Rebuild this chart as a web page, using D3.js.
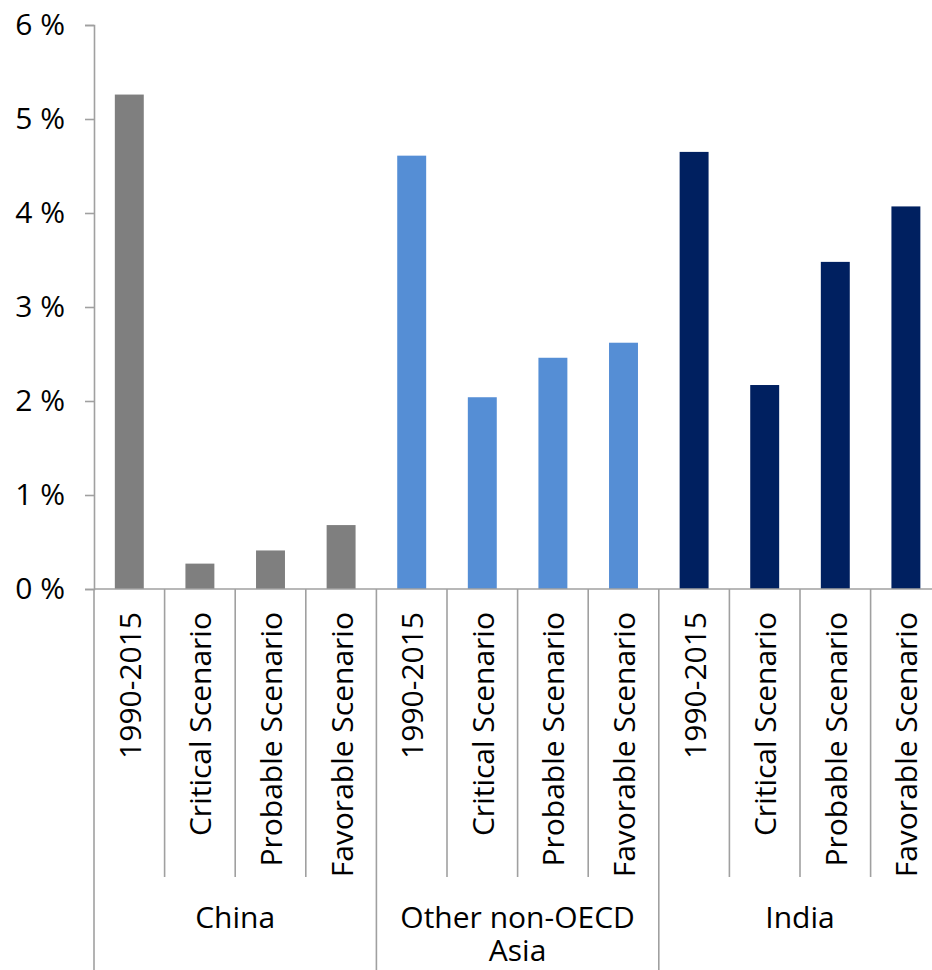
<!DOCTYPE html>
<html>
<head>
<meta charset="utf-8">
<script src="https://cdn.jsdelivr.net/npm/d3@7"></script>
<style>
  html, body { margin: 0; padding: 0; background: #fff; }
  svg { display: block; font-family: "Open Sans", "Noto Sans", sans-serif; }
</style>
</head>
<body>
<svg id="chart" width="932" height="970"></svg>
<script>
// Average annual growth rates by region and scenario
const groups = ["China", "Other non-OECD Asia", "India"];
const scenarios = ["1990-2015", "Critical Scenario", "Probable Scenario", "Favorable Scenario"];
const chinaValues = [5.26, 0.27, 0.41, 0.68];
const otherAsiaValues = [4.61, 2.04, 2.46, 2.62];
const indiaValues = [4.65, 2.17, 3.48, 4.07];
const yTicks = [0, 1, 2, 3, 4, 5, 6];
const groupColors = ["#7f7f7f", "#558ed5", "#002060"];

const seriesByGroup = [chinaValues, otherAsiaValues, indiaValues];
const rows = [];
groups.forEach((g, gi) => {
  scenarios.forEach((s, si) => {
    rows.push({ key: gi + "|" + si, group: g, gi, scenario: s, value: seriesByGroup[gi][si] });
  });
});

const svg = d3.select("#chart");
const axisColor = "#a0a0a0";
const plotLeft = 94, plotTop = 25, plotBottom = 589;
const slotW = 70.6;
const xEnd = plotLeft + slotW * rows.length;

const x = d3.scaleBand()
  .domain(rows.map(d => d.key))
  .range([plotLeft, xEnd])
  .paddingInner(0.59)
  .paddingOuter(0.295);

const y = d3.scaleLinear().domain([0, 6]).range([plotBottom, plotTop]);

// Bars
svg.append("g").selectAll("rect")
  .data(rows)
  .join("rect")
  .attr("x", d => x(d.key))
  .attr("width", x.bandwidth())
  .attr("y", d => y(d.value))
  .attr("height", d => y(0) - y(d.value))
  .attr("fill", d => groupColors[d.gi]);

// Y axis
const yAxis = svg.append("g")
  .attr("transform", `translate(${plotLeft},0)`)
  .call(d3.axisLeft(y).tickValues(yTicks).tickFormat(d => d + " %").tickSize(9).tickPadding(20));
yAxis.select(".domain").attr("stroke", axisColor).attr("stroke-width", 1.6);
yAxis.selectAll(".tick line").attr("stroke", axisColor).attr("stroke-width", 1.6);
yAxis.selectAll(".tick text")
  .attr("fill", "#000")
  .style("font-size", "30px")
  .style("font-family", "'Open Sans', sans-serif");

// Category axis baseline
svg.append("line")
  .attr("x1", plotLeft).attr("x2", xEnd)
  .attr("y1", y(0)).attr("y2", y(0))
  .attr("stroke", axisColor).attr("stroke-width", 1.6);

// Slot dividers: short within a group, long between groups
const slot = d3.scaleBand().domain(rows.map(d => d.key)).range([plotLeft, xEnd]).padding(0);
const dividers = d3.range(rows.length + 1);
svg.append("g").selectAll("line")
  .data(dividers)
  .join("line")
  .attr("x1", i => plotLeft + i * slot.step())
  .attr("x2", i => plotLeft + i * slot.step())
  .attr("y1", y(0))
  .attr("y2", i => (i % scenarios.length === 0) ? 970 : 877)
  .attr("stroke", axisColor)
  .attr("stroke-width", 1.6);

// Scenario labels (rotated)
svg.append("g").selectAll("text")
  .data(rows)
  .join("text")
  .attr("transform", d => `translate(${slot(d.key) + slot.bandwidth() / 2},612) rotate(-90)`)
  .attr("text-anchor", "end")
  .attr("dominant-baseline", "central")
  .style("font-size", "30px")
  .attr("fill", "#000")
  .text(d => d.scenario);

// Group labels
const groupLines = [["China"], ["Other non-OECD", "Asia"], ["India"]];
groups.forEach((g, gi) => {
  const cx = plotLeft + (gi * scenarios.length + scenarios.length / 2) * slot.step();
  const t = svg.append("text")
    .attr("text-anchor", "middle")
    .style("font-size", "30px")
    .attr("fill", "#000");
  groupLines[gi].forEach((line, li) => {
    t.append("tspan").attr("x", cx).attr("y", 928 + li * 33).text(line);
  });
});
</script>
</body>
</html>
